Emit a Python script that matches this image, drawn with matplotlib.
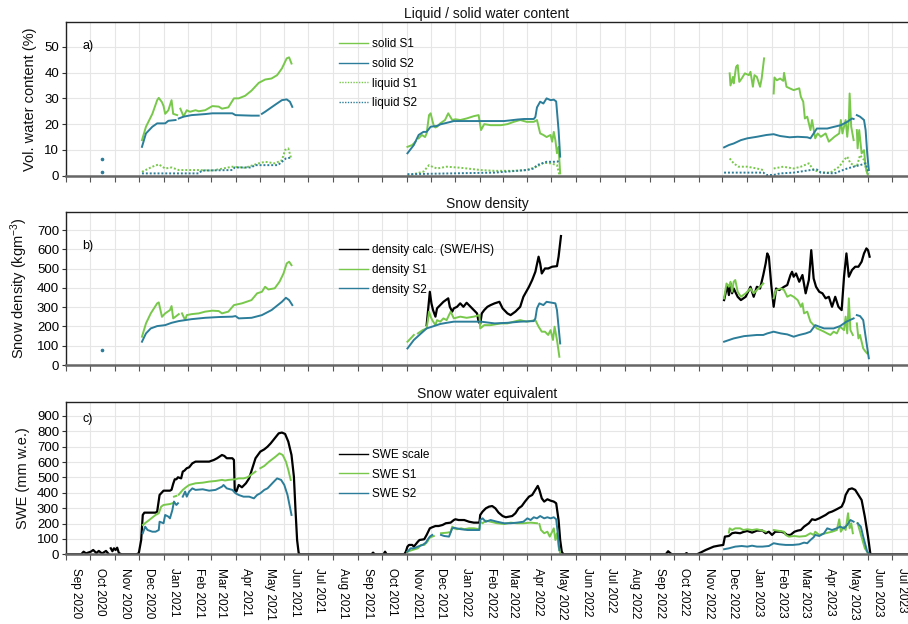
import numpy as np
import pandas as pd
import matplotlib
matplotlib.use("Agg")
import matplotlib.pyplot as plt
import matplotlib.dates as mdates

plt.rcParams['font.family'] = ['Liberation Sans', 'DejaVu Sans']
plt.rcParams['mathtext.fontset'] = 'custom'
plt.rcParams['mathtext.rm'] = 'Liberation Sans'
plt.rcParams['mathtext.it'] = 'Liberation Sans:italic'

GREEN = '#78c84b'
BLUE = '#2b7d99'
X = None  # gap in a series

# ---- a) volumetric water content (%) ----
solid_s1 = [
    ("2020-12-05", 13.8), ("2020-12-10", 19.0), ("2020-12-18", 24.0), ("2020-12-24", 29.3), ("2020-12-26", 30.2),
    ("2020-12-30", 28.5), ("2021-01-01", 27.0), ("2021-01-03", 24.0), ("2021-01-07", 25.4), ("2021-01-11", 29.3),
    ("2021-01-13", 24.0), ("2021-01-18", 23.5), ("2021-01-20", X), ("2021-01-22", 26.0), ("2021-01-26", 23.0),
    ("2021-01-30", 25.4), ("2021-02-03", 24.8), ("2021-02-10", 25.4), ("2021-02-14", 25.0), ("2021-02-22", 25.4),
    ("2021-03-03", 27.0), ("2021-03-11", 26.8), ("2021-03-15", 26.0), ("2021-03-23", 26.5), ("2021-03-30", 30.0),
    ("2021-04-05", 30.0), ("2021-04-13", 31.0), ("2021-04-21", 33.0), ("2021-04-30", 36.0), ("2021-05-08", 37.3),
    ("2021-05-16", 37.7), ("2021-05-23", 39.0), ("2021-05-29", 41.6), ("2021-06-04", 45.5), ("2021-06-07", 45.9),
    ("2021-06-10", 43.5), ("2021-06-11", X),
    ("2021-11-02", 11.2), ("2021-11-08", 11.9), ("2021-11-12", 13.2), ("2021-11-14", X), ("2021-11-16", 14.5),
    ("2021-11-20", 15.8), ("2021-11-24", 15.0), ("2021-11-26", 16.4), ("2021-11-29", 23.5), ("2021-12-01", 24.2),
    ("2021-12-03", 21.6), ("2021-12-05", 19.3), ("2021-12-07", 18.7), ("2021-12-09", 19.0), ("2021-12-13", 20.3),
    ("2021-12-19", 21.6), ("2021-12-23", 24.2), ("2021-12-28", 21.6), ("2022-01-01", 21.9), ("2022-01-07", 21.6),
    ("2022-01-15", 22.2), ("2022-01-24", 23.1), ("2022-01-30", 23.5), ("2022-02-02", 17.7), ("2022-02-06", 20.0),
    ("2022-02-14", 19.6), ("2022-02-27", 19.6), ("2022-03-07", 20.0), ("2022-03-15", 20.9), ("2022-03-23", 21.6),
    ("2022-03-31", 20.9), ("2022-04-09", 20.9), ("2022-04-13", 21.6), ("2022-04-17", 16.4), ("2022-04-21", 15.8),
    ("2022-04-25", 15.0), ("2022-04-30", 15.8), ("2022-05-02", 13.2), ("2022-05-04", 17.0), ("2022-05-06", 13.8),
    ("2022-05-08", 8.7), ("2022-05-10", 11.2), ("2022-05-12", 0.9), ("2022-05-13", X),
    ("2022-12-10", 39.7), ("2022-12-11", 35.0), ("2022-12-14", 38.3), ("2022-12-15", 35.8), ("2022-12-18", 42.2),
    ("2022-12-20", 42.9), ("2022-12-22", 36.4), ("2022-12-25", 37.7), ("2022-12-29", 39.7), ("2023-01-03", 39.0),
    ("2023-01-05", 40.3), ("2023-01-08", 34.5), ("2023-01-10", 39.0), ("2023-01-13", 38.3), ("2023-01-17", 34.5),
    ("2023-01-19", 37.7), ("2023-01-22", 45.5), ("2023-01-23", X), ("2023-02-03", 31.9), ("2023-02-04", 38.1),
    ("2023-02-07", 37.0), ("2023-02-11", 37.7), ("2023-02-15", 36.8), ("2023-02-16", 39.9), ("2023-02-19", 34.5),
    ("2023-02-23", 33.9), ("2023-02-28", 33.2), ("2023-03-07", 33.9), ("2023-03-09", 30.6), ("2023-03-12", 28.7),
    ("2023-03-14", 22.2), ("2023-03-17", 22.9), ("2023-03-21", 17.7), ("2023-03-23", 21.6), ("2023-03-27", 14.5),
    ("2023-03-30", 16.4), ("2023-04-03", 15.1), ("2023-04-09", 16.4), ("2023-04-13", 13.2), ("2023-04-20", 15.1),
    ("2023-04-26", 16.4), ("2023-04-28", 21.6), ("2023-04-30", 16.4), ("2023-05-04", 21.6), ("2023-05-06", 15.1),
    ("2023-05-08", 21.6), ("2023-05-09", 31.9), ("2023-05-11", 19.0), ("2023-05-14", 13.8), ("2023-05-16", X),
    ("2023-05-18", 17.7), ("2023-05-19", 10.6), ("2023-05-21", 17.7), ("2023-05-24", 8.7), ("2023-05-27", 9.9),
    ("2023-05-29", 3.5), ("2023-05-31", 0.9), ("2023-06-01", 0.3),
]
solid_s2 = [
    ("2020-12-05", 11.2), ("2020-12-10", 16.4), ("2020-12-18", 19.0), ("2020-12-24", 20.3), ("2021-01-03", 20.3),
    ("2021-01-07", 21.3), ("2021-01-16", 21.6), ("2021-01-18", X), ("2021-01-20", 22.2), ("2021-01-26", 22.9),
    ("2021-02-05", 23.5), ("2021-02-22", 23.9), ("2021-03-03", 24.2), ("2021-03-28", 24.2), ("2021-04-01", 23.5),
    ("2021-04-21", 23.3), ("2021-04-30", 23.3), ("2021-05-02", X), ("2021-05-04", 24.0), ("2021-05-08", 24.8),
    ("2021-05-20", 27.4), ("2021-05-29", 29.3), ("2021-06-04", 29.6), ("2021-06-08", 28.7), ("2021-06-11", 26.7),
    ("2021-06-12", X),
    ("2021-11-02", 8.7), ("2021-11-10", 11.9), ("2021-11-16", 15.8), ("2021-11-22", 17.0), ("2021-11-26", 17.0),
    ("2021-12-01", 19.0), ("2021-12-09", 19.3), ("2021-12-13", 19.9), ("2021-12-21", 20.5), ("2021-12-30", 21.2),
    ("2022-02-02", 21.2), ("2022-03-03", 21.2), ("2022-03-20", 21.8), ("2022-03-28", 22.0), ("2022-04-09", 22.0),
    ("2022-04-11", 22.8), ("2022-04-13", 26.5), ("2022-04-17", 28.7), ("2022-04-21", 28.0), ("2022-04-25", 30.0),
    ("2022-04-30", 29.3), ("2022-05-04", 29.5), ("2022-05-07", 28.8), ("2022-05-10", 17.7), ("2022-05-12", 7.4),
    ("2022-05-13", X),
    ("2022-12-03", 11.0), ("2022-12-09", 11.9), ("2022-12-15", 12.5), ("2022-12-24", 13.8), ("2023-01-01", 14.5),
    ("2023-01-13", 15.1), ("2023-01-25", 15.8), ("2023-02-03", 16.1), ("2023-02-11", 15.4), ("2023-02-23", 14.9),
    ("2023-03-05", 15.1), ("2023-03-17", 14.9), ("2023-03-21", 14.5), ("2023-03-25", 16.4), ("2023-03-29", 18.3),
    ("2023-04-11", 18.3), ("2023-04-20", 19.0), ("2023-04-28", 19.6), ("2023-05-06", 20.9), ("2023-05-12", 22.2),
    ("2023-05-14", 22.0), ("2023-05-16", X), ("2023-05-18", 23.5), ("2023-05-22", 22.9), ("2023-05-27", 21.6),
    ("2023-05-29", 17.7), ("2023-05-31", 8.7), ("2023-06-02", 2.2),
]
liquid_s1 = [
    ("2020-12-05", 1.5), ("2020-12-18", 3.5), ("2020-12-26", 4.4), ("2021-01-03", 2.8), ("2021-01-11", 3.2),
    ("2021-01-20", 2.2), ("2021-02-14", 2.2), ("2021-03-03", 2.0), ("2021-03-28", 3.5), ("2021-04-13", 3.1),
    ("2021-04-30", 4.8), ("2021-05-08", 5.4), ("2021-05-20", 4.8), ("2021-05-29", 6.0), ("2021-06-02", 10.0),
    ("2021-06-06", 10.6), ("2021-06-10", 6.3), ("2021-06-11", X),
    ("2021-11-02", 0.0), ("2021-11-22", 1.6), ("2021-11-29", 4.1), ("2021-12-03", 3.5), ("2021-12-09", 2.8),
    ("2021-12-21", 3.5), ("2022-01-07", 3.1), ("2022-02-02", 2.2), ("2022-02-19", 1.9), ("2022-03-15", 1.9),
    ("2022-03-31", 2.2), ("2022-04-13", 3.5), ("2022-04-21", 5.0), ("2022-04-30", 4.8), ("2022-05-08", 4.1),
    ("2022-05-11", 0.3), ("2022-05-12", X),
    ("2022-12-10", 6.7), ("2022-12-15", 4.8), ("2022-12-21", 3.5), ("2023-01-01", 3.5), ("2023-01-13", 2.8),
    ("2023-01-21", 2.2), ("2023-01-23", X), ("2023-02-03", 2.8), ("2023-02-15", 3.5), ("2023-02-28", 2.8),
    ("2023-03-09", 3.5), ("2023-03-19", 4.8), ("2023-03-25", 2.2), ("2023-04-03", 1.3), ("2023-04-15", 1.2),
    ("2023-04-26", 3.5), ("2023-05-02", 6.1), ("2023-05-06", 7.4), ("2023-05-10", 4.8), ("2023-05-18", 3.5),
    ("2023-05-22", 8.0), ("2023-05-27", 6.1), ("2023-05-31", 0.9),
]
liquid_s2 = [
    ("2020-12-05", 0.9), ("2021-02-14", 0.9), ("2021-02-18", 2.0), ("2021-03-28", 2.2), ("2021-03-31", 3.2),
    ("2021-04-21", 3.2), ("2021-04-25", 4.1), ("2021-05-24", 4.1), ("2021-05-29", 5.4), ("2021-06-03", 6.7),
    ("2021-06-09", 7.0), ("2021-06-10", X),
    ("2021-11-02", 0.6), ("2022-02-19", 1.2), ("2022-03-31", 2.2), ("2022-04-09", 2.8), ("2022-04-13", 4.1),
    ("2022-04-25", 5.4), ("2022-05-08", 5.4), ("2022-05-12", 6.0), ("2022-05-13", X),
    ("2022-12-03", 1.2), ("2023-01-21", 1.2), ("2023-01-25", 0.3), ("2023-02-03", 0.3), ("2023-02-11", 0.9),
    ("2023-02-28", 1.2), ("2023-03-21", 2.2), ("2023-03-29", 2.4), ("2023-04-03", 1.2), ("2023-04-20", 0.9),
    ("2023-04-28", 1.9), ("2023-05-06", 2.8), ("2023-05-14", 3.5), ("2023-05-22", 4.1), ("2023-05-29", 4.8),
    ("2023-06-02", 0.9),
]
early_solid_s2 = [("2020-10-16", 6.3)]
early_liquid_s2 = [("2020-10-16", 1.4)]

# ---- b) snow density (kg m-3) ----
density_calc = [
    ("2021-11-26", 207), ("2021-11-30", 380), ("2021-12-02", 320), ("2021-12-04", 285), ("2021-12-07", 251),
    ("2021-12-09", 294), ("2021-12-13", 311), ("2021-12-17", 328), ("2021-12-23", 346), ("2021-12-25", 302),
    ("2021-12-28", 277), ("2021-12-30", 294), ("2022-01-03", 302), ("2022-01-07", 320), ("2022-01-11", 302),
    ("2022-01-15", 323), ("2022-01-20", 302), ("2022-01-24", 285), ("2022-01-28", 268), ("2022-01-30", 225),
    ("2022-02-01", 213), ("2022-02-03", 268), ("2022-02-06", 285), ("2022-02-10", 302), ("2022-02-14", 311),
    ("2022-02-19", 320), ("2022-02-25", 328), ("2022-03-01", 294), ("2022-03-07", 268), ("2022-03-11", 259),
    ("2022-03-17", 277), ("2022-03-23", 302), ("2022-03-27", 354), ("2022-04-03", 406), ("2022-04-07", 441),
    ("2022-04-11", 484), ("2022-04-15", 562), ("2022-04-17", 527), ("2022-04-19", 475), ("2022-04-23", 501),
    ("2022-04-27", 501), ("2022-05-02", 510), ("2022-05-08", 513), ("2022-05-10", 562), ("2022-05-13", 669),
    ("2022-05-14", X),
    ("2022-12-03", 337), ("2022-12-07", 415), ("2022-12-09", 363), ("2022-12-11", 423), ("2022-12-13", 372),
    ("2022-12-15", 397), ("2022-12-20", 354), ("2022-12-24", 337), ("2022-12-30", 354), ("2023-01-05", 406),
    ("2023-01-09", 354), ("2023-01-13", 406), ("2023-01-17", 397), ("2023-01-21", 467), ("2023-01-24", 527),
    ("2023-01-26", 579), ("2023-01-28", 562), ("2023-01-31", 415), ("2023-02-03", 302), ("2023-02-06", 397),
    ("2023-02-10", 389), ("2023-02-16", 406), ("2023-02-20", 415), ("2023-02-24", 467), ("2023-02-26", 484),
    ("2023-02-28", 458), ("2023-03-03", 475), ("2023-03-07", 432), ("2023-03-11", 467), ("2023-03-15", 372),
    ("2023-03-19", 441), ("2023-03-22", 596), ("2023-03-25", 449), ("2023-03-28", 406), ("2023-04-01", 380),
    ("2023-04-05", 372), ("2023-04-09", 346), ("2023-04-13", 354), ("2023-04-17", 302), ("2023-04-21", 354),
    ("2023-04-25", 302), ("2023-04-29", 285), ("2023-05-02", 458), ("2023-05-05", 579), ("2023-05-08", 458),
    ("2023-05-12", 493), ("2023-05-16", 510), ("2023-05-20", 510), ("2023-05-24", 536), ("2023-05-27", 579),
    ("2023-05-30", 605), ("2023-06-01", 596), ("2023-06-03", 562),
]
density_s1 = [
    ("2020-12-05", 147), ("2020-12-10", 216), ("2020-12-16", 268), ("2020-12-24", 320), ("2020-12-26", 325),
    ("2020-12-30", 250), ("2021-01-03", 268), ("2021-01-09", 285), ("2021-01-11", 306), ("2021-01-13", 242),
    ("2021-01-16", 251), ("2021-01-20", 264), ("2021-01-22", X), ("2021-01-24", 268), ("2021-01-28", 233),
    ("2021-01-30", 259), ("2021-02-05", 264), ("2021-02-14", 268), ("2021-02-22", 277), ("2021-03-03", 282),
    ("2021-03-11", 280), ("2021-03-15", 268), ("2021-03-23", 277), ("2021-03-30", 311), ("2021-04-09", 320),
    ("2021-04-21", 337), ("2021-04-28", 372), ("2021-05-04", 380), ("2021-05-08", 406), ("2021-05-12", 392),
    ("2021-05-20", 398), ("2021-05-26", 432), ("2021-05-31", 475), ("2021-06-04", 527), ("2021-06-07", 536),
    ("2021-06-10", 518), ("2021-06-11", X),
    ("2021-11-02", 121), ("2021-11-06", 138), ("2021-11-10", 156), ("2021-11-12", X), ("2021-11-15", 164),
    ("2021-11-21", 181), ("2021-11-26", 190), ("2021-11-29", 277), ("2021-12-01", 251), ("2021-12-03", 233),
    ("2021-12-07", 207), ("2021-12-09", 233), ("2021-12-13", 225), ("2021-12-17", 242), ("2021-12-21", 233),
    ("2021-12-26", 277), ("2021-12-30", 242), ("2022-01-07", 251), ("2022-01-15", 245), ("2022-01-24", 251),
    ("2022-01-31", 259), ("2022-02-01", 190), ("2022-02-06", 207), ("2022-02-14", 207), ("2022-02-27", 216),
    ("2022-03-07", 216), ("2022-03-15", 225), ("2022-03-23", 233), ("2022-03-31", 225), ("2022-04-11", 233),
    ("2022-04-15", 199), ("2022-04-19", 173), ("2022-04-23", 173), ("2022-04-27", 156), ("2022-04-30", 181),
    ("2022-05-03", 130), ("2022-05-05", 199), ("2022-05-08", 130), ("2022-05-11", 43), ("2022-05-12", X),
    ("2022-12-03", 346), ("2022-12-06", 423), ("2022-12-09", 406), ("2022-12-11", 432), ("2022-12-13", 380),
    ("2022-12-15", 432), ("2022-12-17", 441), ("2022-12-20", 380), ("2022-12-24", 354), ("2022-12-30", 372),
    ("2023-01-05", 397), ("2023-01-09", 372), ("2023-01-13", 389), ("2023-01-17", 406), ("2023-01-21", 423),
    ("2023-01-22", X), ("2023-02-03", 346), ("2023-02-06", 389), ("2023-02-12", 397), ("2023-02-16", 389),
    ("2023-02-20", 354), ("2023-02-24", 363), ("2023-02-28", 354), ("2023-03-05", 337), ("2023-03-09", 302),
    ("2023-03-11", 320), ("2023-03-13", 268), ("2023-03-17", 277), ("2023-03-21", 225), ("2023-03-25", 207),
    ("2023-03-29", 190), ("2023-04-03", 181), ("2023-04-07", 173), ("2023-04-11", 164), ("2023-04-15", 156),
    ("2023-04-19", 173), ("2023-04-23", 164), ("2023-04-27", 199), ("2023-05-02", 181), ("2023-05-04", 251),
    ("2023-05-06", 164), ("2023-05-08", 346), ("2023-05-10", 181), ("2023-05-13", 156), ("2023-05-15", X),
    ("2023-05-18", 216), ("2023-05-20", 138), ("2023-05-22", 156), ("2023-05-26", 86), ("2023-05-29", 69),
    ("2023-05-31", 60),
]
density_s2 = [
    ("2020-12-05", 121), ("2020-12-10", 164), ("2020-12-16", 190), ("2020-12-24", 202), ("2021-01-03", 207),
    ("2021-01-11", 219), ("2021-01-20", 228), ("2021-02-05", 238), ("2021-02-22", 245), ("2021-03-11", 249),
    ("2021-03-28", 251), ("2021-04-01", 254), ("2021-04-05", 242), ("2021-04-21", 245), ("2021-05-04", 259),
    ("2021-05-16", 285), ("2021-05-29", 328), ("2021-06-03", 349), ("2021-06-07", 337), ("2021-06-11", 311),
    ("2021-06-12", X),
    ("2021-11-02", 86), ("2021-11-10", 130), ("2021-11-19", 164), ("2021-11-26", 190), ("2021-12-05", 202),
    ("2021-12-13", 213), ("2021-12-21", 219), ("2021-12-30", 225), ("2022-02-02", 225), ("2022-02-19", 216),
    ("2022-03-07", 219), ("2022-03-23", 225), ("2022-04-09", 228), ("2022-04-11", 242), ("2022-04-13", 294),
    ("2022-04-16", 320), ("2022-04-21", 311), ("2022-04-25", 328), ("2022-05-02", 323), ("2022-05-06", 320),
    ("2022-05-08", 285), ("2022-05-12", 112), ("2022-05-13", X),
    ("2022-12-03", 121), ("2022-12-15", 138), ("2022-12-28", 150), ("2023-01-13", 156), ("2023-01-21", 156),
    ("2023-01-26", 164), ("2023-02-03", 173), ("2023-02-12", 164), ("2023-02-20", 159), ("2023-02-28", 147),
    ("2023-03-07", 156), ("2023-03-15", 164), ("2023-03-21", 173), ("2023-03-27", 207), ("2023-04-01", 199),
    ("2023-04-07", 190), ("2023-04-19", 190), ("2023-04-27", 202), ("2023-05-05", 225), ("2023-05-14", 242),
    ("2023-05-16", X), ("2023-05-18", 259), ("2023-05-22", 254), ("2023-05-26", 233), ("2023-05-29", 147),
    ("2023-06-02", 35),
]
early_density_s2 = [("2020-10-16", 78)]

# ---- c) snow water equivalent (mm w.e.) ----
swe_scale = [
    ("2020-09-01", 0), ("2020-09-20", 0), ("2020-09-23", 17), ("2020-09-26", 6), ("2020-10-02", 17),
    ("2020-10-05", 28), ("2020-10-09", 8), ("2020-10-12", 22), ("2020-10-16", 5), ("2020-10-21", 22),
    ("2020-10-24", 4), ("2020-10-26", X), ("2020-10-27", 39), ("2020-10-29", 20), ("2020-10-31", 39),
    ("2020-11-02", 28), ("2020-11-04", 43), ("2020-11-06", 10), ("2020-11-08", 3), ("2020-11-10", 0),
    ("2020-11-28", 0), ("2020-12-01", 7), ("2020-12-04", 93), ("2020-12-06", 256), ("2020-12-08", 271),
    ("2020-12-22", 271), ("2020-12-24", 278), ("2020-12-26", 353), ("2020-12-27", 386), ("2021-01-01", 414),
    ("2021-01-09", 414), ("2021-01-11", 420), ("2021-01-13", 458), ("2021-01-15", 488), ("2021-01-17", 488),
    ("2021-01-19", 501), ("2021-01-23", 494), ("2021-01-25", 538), ("2021-01-27", 544), ("2021-01-30", 560),
    ("2021-02-02", 566), ("2021-02-06", 592), ("2021-02-10", 603), ("2021-02-27", 603), ("2021-03-05", 614),
    ("2021-03-09", 625), ("2021-03-15", 646), ("2021-03-18", 640), ("2021-03-21", 625), ("2021-03-28", 625),
    ("2021-03-30", 614), ("2021-03-31", 419), ("2021-04-02", 408), ("2021-04-05", 451), ("2021-04-09", 436),
    ("2021-04-14", 462), ("2021-04-18", 494), ("2021-04-22", 560), ("2021-04-26", 625), ("2021-05-02", 668),
    ("2021-05-07", 683), ("2021-05-11", 700), ("2021-05-15", 722), ("2021-05-21", 761), ("2021-05-25", 787),
    ("2021-05-29", 792), ("2021-06-02", 783), ("2021-06-06", 733), ("2021-06-10", 646), ("2021-06-13", 505),
    ("2021-06-15", 288), ("2021-06-17", 93), ("2021-06-19", 7), ("2021-06-21", 0),
    ("2021-09-18", 0), ("2021-09-20", 11), ("2021-09-22", 0), ("2021-10-03", 0), ("2021-10-05", 17),
    ("2021-10-07", 0), ("2021-10-29", 0), ("2021-10-31", 17), ("2021-11-02", 50), ("2021-11-04", 61),
    ("2021-11-08", 61), ("2021-11-10", 50), ("2021-11-15", 82), ("2021-11-17", 93), ("2021-11-23", 98),
    ("2021-11-26", 126), ("2021-11-28", 147), ("2021-11-30", 169), ("2021-12-03", 176), ("2021-12-07", 184),
    ("2021-12-11", 184), ("2021-12-16", 191), ("2021-12-20", 202), ("2021-12-26", 206), ("2021-12-30", 223),
    ("2022-01-01", 228), ("2022-01-05", 223), ("2022-01-12", 223), ("2022-01-18", 212), ("2022-01-24", 206),
    ("2022-01-31", 206), ("2022-02-01", 256), ("2022-02-04", 278), ("2022-02-08", 299), ("2022-02-12", 310),
    ("2022-02-16", 314), ("2022-02-20", 299), ("2022-02-24", 271), ("2022-03-01", 249), ("2022-03-05", 241),
    ("2022-03-09", 245), ("2022-03-13", 249), ("2022-03-17", 267), ("2022-03-21", 299), ("2022-03-25", 314),
    ("2022-03-29", 343), ("2022-04-03", 375), ("2022-04-07", 386), ("2022-04-11", 419), ("2022-04-14", 445),
    ("2022-04-16", 419), ("2022-04-19", 364), ("2022-04-22", 343), ("2022-04-26", 358), ("2022-04-30", 349),
    ("2022-05-04", 343), ("2022-05-07", 332), ("2022-05-10", 223), ("2022-05-12", 93), ("2022-05-14", 17),
    ("2022-05-16", 0),
    ("2022-09-21", 0), ("2022-09-24", 20), ("2022-09-27", 6), ("2022-09-29", 0), ("2022-10-15", 0),
    ("2022-10-17", 8), ("2022-10-19", 0), ("2022-10-30", 0), ("2022-11-02", 7), ("2022-11-10", 28),
    ("2022-11-15", 39), ("2022-11-20", 50), ("2022-11-26", 56), ("2022-12-02", 61), ("2022-12-04", 115),
    ("2022-12-09", 119), ("2022-12-13", 137), ("2022-12-17", 141), ("2022-12-23", 137), ("2022-12-27", 145),
    ("2023-01-01", 152), ("2023-01-07", 141), ("2023-01-13", 154), ("2023-01-20", 154), ("2023-01-24", 137),
    ("2023-01-28", 147), ("2023-02-01", 126), ("2023-02-05", 147), ("2023-02-12", 147), ("2023-02-16", 141),
    ("2023-02-20", 126), ("2023-02-24", 126), ("2023-03-01", 147), ("2023-03-05", 154), ("2023-03-09", 158),
    ("2023-03-13", 180), ("2023-03-19", 202), ("2023-03-23", 228), ("2023-03-27", 223), ("2023-04-01", 234),
    ("2023-04-05", 245), ("2023-04-09", 256), ("2023-04-13", 271), ("2023-04-17", 278), ("2023-04-21", 288),
    ("2023-04-25", 299), ("2023-04-29", 310), ("2023-05-02", 343), ("2023-05-04", 386), ("2023-05-08", 423),
    ("2023-05-12", 429), ("2023-05-16", 419), ("2023-05-20", 386), ("2023-05-24", 353), ("2023-05-28", 245),
    ("2023-06-01", 115), ("2023-06-04", 0), ("2023-07-21", 0),
]
swe_s1 = [
    ("2020-12-06", 191), ("2020-12-14", 223), ("2020-12-22", 256), ("2020-12-26", 267), ("2020-12-29", 310),
    ("2021-01-01", 321), ("2021-01-09", 327), ("2021-01-12", 332), ("2021-01-13", X), ("2021-01-14", 375),
    ("2021-01-17", 380), ("2021-01-18", X), ("2021-01-20", 388), ("2021-01-25", 419), ("2021-01-29", 436),
    ("2021-02-02", 451), ("2021-02-10", 462), ("2021-02-19", 466), ("2021-02-27", 473), ("2021-03-07", 477),
    ("2021-03-15", 484), ("2021-03-19", 480), ("2021-03-23", 484), ("2021-03-31", 488), ("2021-04-05", 494),
    ("2021-04-11", 494), ("2021-04-16", 501), ("2021-04-20", 516), ("2021-04-26", 538), ("2021-04-28", X),
    ("2021-05-02", 560), ("2021-05-07", 575), ("2021-05-13", 603), ("2021-05-21", 635), ("2021-05-26", 657),
    ("2021-05-30", 646), ("2021-06-03", 603), ("2021-06-06", 549), ("2021-06-09", 484), ("2021-06-10", X),
    ("2021-11-02", 17), ("2021-11-08", 28), ("2021-11-15", 39), ("2021-11-19", 61), ("2021-11-23", 61),
    ("2021-11-27", 82), ("2021-11-29", 104), ("2021-12-01", 111), ("2021-12-05", 119), ("2021-12-08", X),
    ("2021-12-14", 137), ("2021-12-22", 141), ("2021-12-26", 145), ("2021-12-28", 180), ("2021-12-30", 169),
    ("2022-01-03", 163), ("2022-01-08", 169), ("2022-01-12", 163), ("2022-01-18", 169), ("2022-01-24", 169),
    ("2022-01-31", 163), ("2022-02-01", 212), ("2022-02-04", 202), ("2022-02-08", 219), ("2022-02-14", 212),
    ("2022-02-22", 202), ("2022-03-03", 197), ("2022-03-11", 206), ("2022-03-19", 202), ("2022-03-27", 202),
    ("2022-04-05", 206), ("2022-04-13", 202), ("2022-04-14", X), ("2022-04-16", 197), ("2022-04-18", 158),
    ("2022-04-22", 137), ("2022-04-26", 147), ("2022-04-29", 115), ("2022-05-02", 147), ("2022-05-04", 169),
    ("2022-05-06", 93), ("2022-05-08", 137), ("2022-05-10", 50), ("2022-05-12", 7), ("2022-05-13", X),
    ("2022-12-09", 141), ("2022-12-10", 169), ("2022-12-13", 158), ("2022-12-17", 169), ("2022-12-23", 169),
    ("2022-12-27", 158), ("2023-01-01", 163), ("2023-01-07", 158), ("2023-01-13", 163), ("2023-01-20", 154),
    ("2023-01-24", 147), ("2023-01-26", X), ("2023-02-03", 158), ("2023-02-10", 152), ("2023-02-16", 147),
    ("2023-02-18", 126), ("2023-02-22", 115), ("2023-03-01", 119), ("2023-03-07", 115), ("2023-03-15", 119),
    ("2023-03-21", 137), ("2023-03-25", 126), ("2023-03-27", 147), ("2023-04-01", 126), ("2023-04-09", 137),
    ("2023-04-17", 147), ("2023-04-23", 158), ("2023-04-26", 228), ("2023-04-28", 147), ("2023-05-02", 180),
    ("2023-05-04", 158), ("2023-05-07", 267), ("2023-05-09", 169), ("2023-05-11", 202), ("2023-05-13", 137),
    ("2023-05-15", X), ("2023-05-19", 202), ("2023-05-22", 147), ("2023-05-25", 93), ("2023-05-28", 39),
    ("2023-06-01", 7),
]
swe_s2 = [
    ("2020-12-06", 137), ("2020-12-09", 180), ("2020-12-12", 158), ("2020-12-18", 147), ("2020-12-22", 147),
    ("2020-12-26", 158), ("2020-12-27", 212), ("2021-01-01", 202), ("2021-01-03", 256), ("2021-01-07", 245),
    ("2021-01-09", 234), ("2021-01-12", 288), ("2021-01-14", 343), ("2021-01-17", 321), ("2021-01-19", 332),
    ("2021-01-21", X), ("2021-01-25", 375), ("2021-01-28", 408), ("2021-01-30", 375), ("2021-02-02", 408),
    ("2021-02-06", 429), ("2021-02-10", 419), ("2021-02-19", 423), ("2021-02-27", 414), ("2021-03-07", 419),
    ("2021-03-15", 440), ("2021-03-17", 451), ("2021-03-21", 429), ("2021-03-28", 419), ("2021-04-01", 397),
    ("2021-04-05", 386), ("2021-04-11", 375), ("2021-04-18", 375), ("2021-04-24", 364), ("2021-04-28", 386),
    ("2021-05-02", 397), ("2021-05-07", 419), ("2021-05-11", 429), ("2021-05-15", 451), ("2021-05-19", 473),
    ("2021-05-23", 494), ("2021-05-28", 484), ("2021-06-01", 451), ("2021-06-05", 386), ("2021-06-10", 256),
    ("2021-06-11", X),
    ("2021-11-02", 17), ("2021-11-06", 39), ("2021-11-10", 39), ("2021-11-15", 50), ("2021-11-21", 61),
    ("2021-11-25", 76), ("2021-11-27", 93), ("2021-11-30", 115), ("2021-12-03", 126), ("2021-12-08", X),
    ("2021-12-14", 126), ("2021-12-18", 119), ("2021-12-24", 115), ("2021-12-28", 169), ("2021-12-30", 173),
    ("2022-01-08", 163), ("2022-01-16", 158), ("2022-01-24", 158), ("2022-01-31", 158), ("2022-02-01", 223),
    ("2022-02-04", 234), ("2022-02-08", 212), ("2022-02-14", 223), ("2022-02-22", 212), ("2022-03-03", 202),
    ("2022-03-11", 202), ("2022-03-19", 206), ("2022-03-27", 212), ("2022-04-01", 234), ("2022-04-05", 223),
    ("2022-04-09", 241), ("2022-04-13", 234), ("2022-04-17", 249), ("2022-04-22", 234), ("2022-04-26", 241),
    ("2022-04-30", 234), ("2022-05-04", 241), ("2022-05-07", 228), ("2022-05-09", 137), ("2022-05-11", 28),
    ("2022-05-12", X),
    ("2022-12-03", 33), ("2022-12-09", 39), ("2022-12-17", 50), ("2022-12-25", 54), ("2023-01-01", 50),
    ("2023-01-07", 56), ("2023-01-13", 50), ("2023-01-20", 50), ("2023-01-28", 54), ("2023-02-03", 72),
    ("2023-02-10", 65), ("2023-02-18", 61), ("2023-02-27", 61), ("2023-03-07", 65), ("2023-03-13", 76),
    ("2023-03-17", 72), ("2023-03-21", 93), ("2023-03-25", 111), ("2023-03-27", 126), ("2023-04-01", 119),
    ("2023-04-07", 137), ("2023-04-11", 169), ("2023-04-17", 158), ("2023-04-23", 169), ("2023-04-27", 180),
    ("2023-05-02", 169), ("2023-05-06", 191), ("2023-05-10", 223), ("2023-05-14", 212), ("2023-05-16", X),
    ("2023-05-19", 202), ("2023-05-23", 180), ("2023-05-26", 115), ("2023-05-31", 17), ("2023-06-02", 7),
]


def series(pairs):
    d = pd.to_datetime([p[0] for p in pairs])
    v = np.array([np.nan if p[1] is None else p[1] for p in pairs], dtype=float)
    return d, v


fig = plt.figure(figsize=(9.08, 6.24), dpi=100)
ax_a = fig.add_axes([0.0727, 0.7184, 0.9273, 0.2463])
ax_b = fig.add_axes([0.0727, 0.4150, 0.9273, 0.2450])
ax_c = fig.add_axes([0.0727, 0.1117, 0.9273, 0.2441])

lw = 1.4
# a)
ax_a.plot(*series(solid_s1), color=GREEN, lw=lw, label='solid S1')
ax_a.plot(*series(solid_s2), color=BLUE, lw=lw, label='solid S2')
ax_a.plot(*series(liquid_s1), color=GREEN, lw=lw, ls=(0, (1, 1)), label='liquid S1')
ax_a.plot(*series(liquid_s2), color=BLUE, lw=lw, ls=(0, (1, 1)), label='liquid S2')
ax_a.plot(*series(early_solid_s2), color=BLUE, marker='o', ms=1.6, ls='none')
ax_a.plot(*series(early_liquid_s2), color=BLUE, marker='o', ms=1.6, ls='none')

# b)
ax_b.plot(*series(density_calc), color='black', lw=1.6, label='density calc. (SWE/HS)')
ax_b.plot(*series(density_s1), color=GREEN, lw=lw, label='density S1')
ax_b.plot(*series(density_s2), color=BLUE, lw=lw, label='density S2')
ax_b.plot(*series(early_density_s2), color=BLUE, marker='o', ms=1.6, ls='none')

# c)
ax_c.plot(*series(swe_scale), color='black', lw=1.6, label='SWE scale')
ax_c.plot(*series(swe_s1), color=GREEN, lw=lw, label='SWE S1')
ax_c.plot(*series(swe_s2), color=BLUE, lw=lw, label='SWE S2')

titles = ['Liquid / solid water content', 'Snow density', 'Snow water equivalent']
ylabels = ['Vol. water content (%)', 'Snow density (kgm$^{-3}$)', 'SWE (mm w.e.)']
ylims = [(0, 59.6), (0, 793), (0, 991)]
yticks = [np.arange(0, 51, 10), np.arange(0, 701, 100), np.arange(0, 901, 100)]
letters = ['a)', 'b)', 'c)']
letter_y = [0.845, 0.78, 0.888]
leg_y = [0.895, 0.79, 0.692]

for i, ax in enumerate([ax_a, ax_b, ax_c]):
    ax.set_xlim(pd.Timestamp('2020-09-01'), pd.Timestamp('2023-07-21'))
    ax.set_ylim(*ylims[i])
    ax.set_yticks(yticks[i])
    ax.set_title(titles[i], fontsize=10, pad=3, color='#111111')
    ax.set_ylabel(ylabels[i], fontsize=10.5, labelpad=5, color='#111111')
    ax.text(0.019, letter_y[i], letters[i], transform=ax.transAxes, fontsize=9, va='center')
    ax.xaxis.set_major_locator(mdates.MonthLocator())
    ax.xaxis.set_major_formatter(plt.NullFormatter())
    ax.xaxis.set_minor_locator(mdates.MonthLocator(bymonthday=14))
    if i == 2:
        ax.xaxis.set_minor_formatter(mdates.DateFormatter('%b %Y'))
    else:
        ax.xaxis.set_minor_formatter(plt.NullFormatter())
    ax.tick_params(axis='x', which='major', length=4, width=0.8, color='#555555')
    ax.tick_params(axis='x', which='minor', length=0, pad=10, labelsize=8.5, rotation=-90)
    ax.tick_params(axis='y', length=3, width=0.8, labelsize=9.5, pad=2, color='#333333')
    ax.grid(which='major', color='#e6e6e6', lw=0.8)
    ax.set_axisbelow(True)
    ax.spines['right'].set_visible(False)
    ax.spines['top'].set_color('#222222')
    ax.spines['top'].set_linewidth(1.0)
    ax.spines['left'].set_color('#222222')
    ax.spines['left'].set_linewidth(1.0)
    ax.spines['bottom'].set_color('#666666')
    ax.spines['bottom'].set_linewidth(1.8)
    leg = ax.legend(loc='upper left', bbox_to_anchor=(0.324, leg_y[i]), frameon=False, fontsize=8.5,
                    labelspacing=0.65, handlelength=2.5, handletextpad=0.35, borderpad=0, borderaxespad=0)
    for h in leg.get_lines():
        h.set_linewidth(1.0)

for lab in ax_c.xaxis.get_minorticklabels():
    lab.set_rotation(-90)
    lab.set_va('top')
    lab.set_ha('center')

fig.savefig('out.png', dpi=100)
